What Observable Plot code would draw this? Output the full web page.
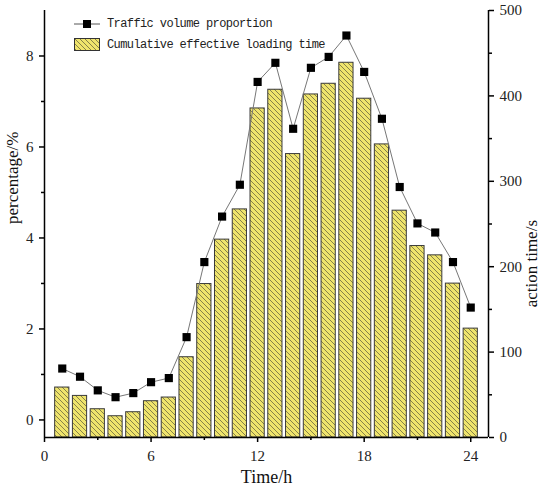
<!DOCTYPE html>
<html>
<head>
<meta charset="utf-8">
<script src="https://cdn.jsdelivr.net/npm/d3@7"></script>
<script src="https://cdn.jsdelivr.net/npm/@observablehq/plot@0.6"></script>
<style>
  body { margin: 0; background: #fff; }
  #wrap { position: relative; width: 550px; height: 495px; }
  #wrap svg, #wrap svg g, #wrap svg text { font-family: "Liberation Serif", serif !important; font-variant: normal !important; }
  #legend { position: absolute; left: 74px; top: 13px; font-family: "Liberation Mono", monospace; font-size: 12px; letter-spacing: -0.6px; color: #222; }
  #legend .row { display: flex; align-items: center; height: 21px; }
  #legend svg { margin-right: 7px; }
</style>
</head>
<body>
<div id="wrap"><div id="legend"></div></div>
<script>
// Data
const hours = [1,2,3,4,5,6,7,8,9,10,11,12,13,14,15,16,17,18,19,20,21,22,23,24];
const trafficPct = [1.13,0.95,0.65,0.50,0.59,0.83,0.92,1.82,3.47,4.47,5.17,7.43,7.85,6.40,7.74,7.98,8.45,7.65,6.62,5.12,4.32,4.12,3.47,2.47];
const loadingTime = [58.5,48.7,33.1,24.9,29.6,42.5,46.8,94,179.7,231.7,267.1,385.3,407.2,331.9,401.7,414.2,438.8,396.7,343.2,265.6,224.2,213.3,180.2,127.5];
const xMajor = [0,6,12,18,24];
const xMinor = [3,9,15,21];
const leftMajor = [0,2,4,6,8];
const leftMinor = [1,3,5,7];
const rightMajor = [0,100,200,300,400,500];
const rightMinor = [50,150,250,350,450];
const seriesNames = ["Traffic volume proportion", "Cumulative effective loading time"];

const yMin = -0.386, yMax = 9.0;     // left axis domain (percentage)
const rMin = 0, rMax = 500;          // right axis domain (action time)
const toLeft = v => yMin + (v - rMin) / (rMax - rMin) * (yMax - yMin);
const fromLeft = y => rMin + (y - yMin) / (yMax - yMin) * (rMax - rMin);

const data = hours.map((h, i) => ({h, pct: trafficPct[i], t: loadingTime[i]}));

const font = "Liberation Serif";
const ax = {fontFamily: font, stroke: "#000", strokeWidth: 1.5, label: null};
const plot = Plot.plot({
  width: 550,
  height: 495,
  marginLeft: 44,
  marginRight: 62,
  marginTop: 10,
  marginBottom: 58,
  style: {fontFamily: font, fontSize: "14px", color: "#222", background: "#fff"},
  x: {domain: [0, 25]},
  y: {domain: [yMin, yMax]},
  marks: [
    Plot.rect(data, {x1: d => d.h - 0.4, x2: d => d.h + 0.4, y1: yMin, y2: d => toLeft(d.t),
      fill: "url(#hatch)", stroke: "#3a3a3a", strokeWidth: 1}),
    Plot.line(data, {x: "h", y: "pct", stroke: "#777", strokeWidth: 1}),
    Plot.dot(data, {x: "h", y: "pct", symbol: "square", r: 4.6, fill: "#000", stroke: "none"}),
    Plot.ruleX([0, 25], {stroke: "#000", strokeWidth: 1.5}),
    Plot.ruleY([yMin], {stroke: "#000", strokeWidth: 1.5}),
    Plot.axisX(xMajor, {...ax, tickSize: 5, tickPadding: 8, fontSize: 15}),
    Plot.axisX(xMinor, {...ax, tickSize: 3, tickFormat: () => ""}),
    Plot.axisY(leftMajor, {...ax, anchor: "left", tickSize: 5, tickPadding: 6, fontSize: 15}),
    Plot.axisY(leftMinor, {...ax, anchor: "left", tickSize: 3, tickFormat: () => ""}),
    Plot.axisY(rightMajor.map(toLeft), {...ax, anchor: "right", tickSize: 5, tickPadding: 6, fontSize: 15,
      tickFormat: d => String(Math.round(fromLeft(d)))}),
    Plot.axisY(rightMinor.map(toLeft), {...ax, anchor: "right", tickSize: 3, tickFormat: () => ""}),
    Plot.text(["Time/h"], {frameAnchor: "bottom", dy: 45, fontSize: 18, fontFamily: font, fill: "#111"}),
    Plot.text(["percentage/%"], {frameAnchor: "left", rotate: -90, dx: -32, dy: 0, fontSize: 17, fontFamily: font, fill: "#111"}),
    Plot.text(["action time/s"], {frameAnchor: "right", rotate: -90, dx: 43, dy: -4, fontSize: 17, fontFamily: font, fill: "#111"})
  ]
});

d3.select(plot).insert("defs", ":first-child").html(
  `<pattern id="hatch" patternUnits="userSpaceOnUse" width="5" height="5">
     <rect width="5" height="5" fill="#efe46c"></rect>
     <path d="M-1,-1 L6,6 M-1,4 L1,6 M4,-1 L6,1" stroke="#6b6840" stroke-width="0.8"></path>
   </pattern>`);

document.getElementById("wrap").prepend(plot);

const legend = document.getElementById("legend");
legend.innerHTML = `
  <div class="row"><svg width="26" height="12"><line x1="0" y1="6" x2="26" y2="6" stroke="#555" stroke-width="1"/><rect x="9" y="2" width="8" height="8" fill="#000"/></svg><span>${seriesNames[0]}</span></div>
  <div class="row"><svg width="26" height="13"><rect x="0.5" y="0.5" width="25" height="12" fill="url(#hatch)" stroke="#333"/></svg><span>${seriesNames[1]}</span></div>`;
</script>
</body>
</html>
